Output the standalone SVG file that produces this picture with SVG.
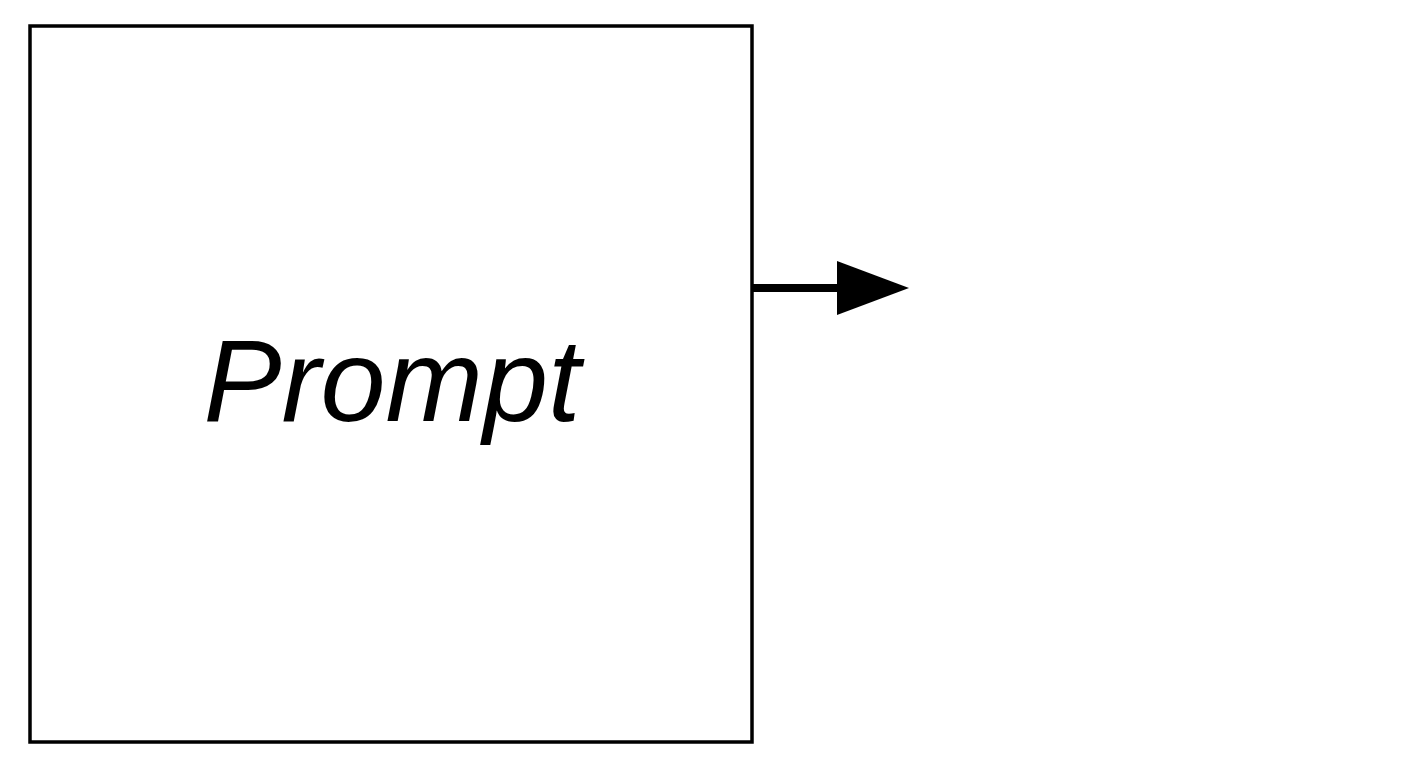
<svg xmlns="http://www.w3.org/2000/svg" width="1408" height="768" viewBox="0 0 1408 768">
<style>
.box{fill:#fff;stroke:#000;stroke-width:3.5}
.lbl{font-family:"Liberation Sans",Arial,sans-serif;font-style:italic;font-size:117px;fill:#000}
.conn{stroke:#000;stroke-width:8;fill:none}
</style>
<defs>
<marker id="ah" markerUnits="userSpaceOnUse" markerWidth="72" markerHeight="54" refX="0" refY="27" orient="auto" viewBox="0 0 72 54">
<path d="M0,0 L72,27 L0,54 Z" fill="#000"/>
</marker>
</defs>
<rect width="1408" height="768" fill="#fff"/>
<g id="prompt">
<rect class="box" x="30" y="26" width="722" height="716"/>
<text class="lbl" x="392" y="421" text-anchor="middle">Prompt</text>
</g>
<g id="connectors">
<path class="conn" d="M752,288 L837,288" marker-end="url(#ah)"/>
</g>
</svg>
